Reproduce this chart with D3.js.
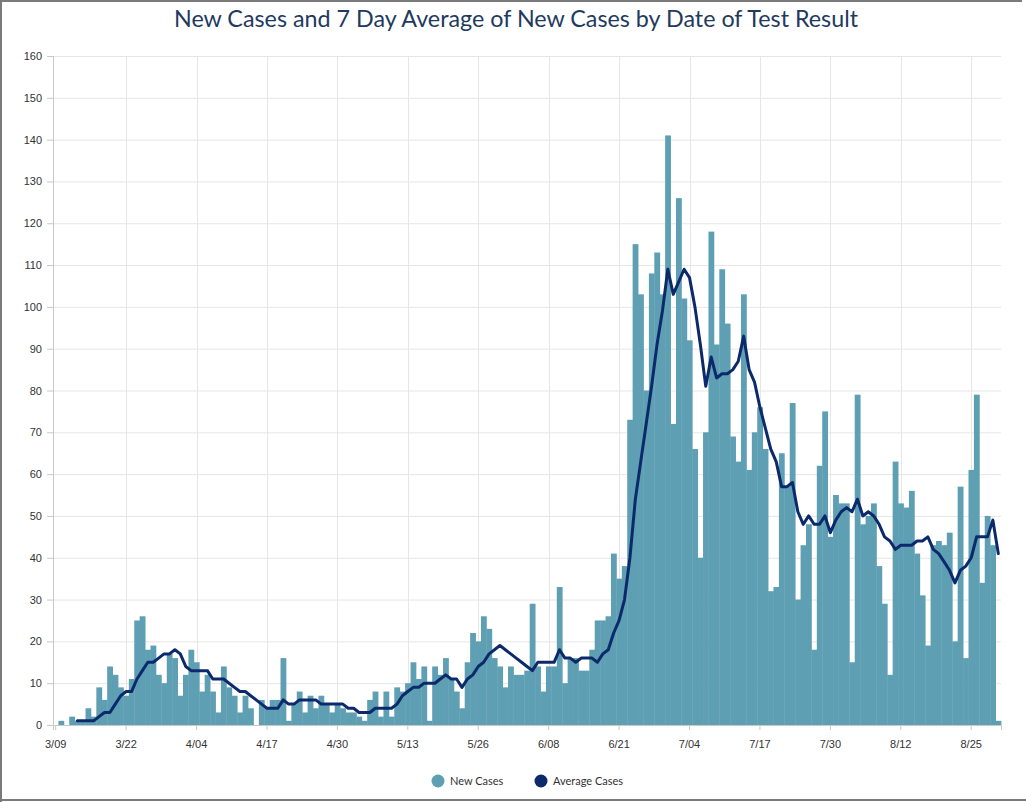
<!DOCTYPE html>
<html>
<head>
<meta charset="utf-8">
<script src="https://cdn.jsdelivr.net/npm/d3@7"></script>
<style>
  body { margin: 0; background: #fff; }
  svg { display: block; font-family: Lato, "Open Sans", sans-serif; }
  .axis text { fill: #333; font-size: 11px; }
  .axis path, .axis line { stroke: #c8c8c8; }
</style>
</head>
<body>
<div id="main"></div>
<script>
var ctx = {
    w: 1026,
    h: 802,
    left: 53,
    right: 1001,
    top: 56,
    bottom: 725,
    barColor: "#5e9fb3",
    lineColor: "#0c2a6b"
};

// first day of the series, one value per day after that
var startDate = new Date(2020, 2, 9);

// daily new cases, 3/09 .. 8/30
var newCases = [
  0, 1, 0, 2, 1, 1, 4, 2, 9, 6, 14, 12, 9, 7, 11, 25, 26, 18, 19, 12,
  10, 17, 16, 7, 12, 18, 15, 8, 12, 8, 3, 14, 9, 7, 3, 7, 4, 0, 6, 4,
  6, 6, 16, 1, 5, 8, 3, 7, 4, 7, 5, 3, 5, 4, 3, 3, 2, 1, 6, 8,
  2, 8, 2, 9, 8, 10, 15, 11, 14, 1, 14, 12, 16, 11, 8, 4, 15, 22, 20, 26,
  23, 16, 14, 9, 14, 12, 12, 13, 29, 14, 8, 14, 14, 33, 10, 16, 16, 13, 13, 18,
  25, 25, 26, 41, 35, 38, 73, 115, 103, 80, 108, 113, 103, 141, 72, 126, 102, 92, 66, 40,
  70, 118, 91, 109, 96, 69, 63, 103, 61, 70, 76, 66, 32, 33, 65, 57, 77, 30, 43, 48,
  18, 62, 75, 45, 55, 53, 53, 15, 79, 48, 50, 53, 38, 29, 12, 63, 53, 52, 56, 41,
  31, 19, 43, 44, 43, 46, 20, 57, 16, 61, 79, 34, 50, 43, 1
];

// 7 day average as drawn (no value for the first four days)
var avgCases = [
  null, null, null, null, 1, 1, 1, 1, 2, 3, 3, 5, 7, 8, 8, 11, 13, 15, 15, 16,
  17, 17, 18, 17, 14, 13, 13, 13, 13, 11, 11, 11, 10, 9, 8, 8, 7, 6, 5, 4,
  4, 4, 6, 5, 5, 6, 6, 6, 6, 5, 5, 5, 5, 5, 4, 4, 3, 3, 3, 4,
  4, 4, 4, 5, 7, 8, 9, 9, 10, 10, 10, 11, 12, 11, 11, 9, 11, 12, 14, 15,
  17, 18, 19, 18, 17, 16, 15, 14, 13, 15, 15, 15, 15, 18, 16, 16, 15, 16, 16, 16,
  15, 17, 18, 22, 25, 30, 40, 54, 63, 72, 81, 91, 99, 109, 103, 106, 109, 107, 100, 91,
  81, 88, 83, 84, 84, 85, 87, 93, 85, 82, 76, 71, 66, 63, 57, 57, 58, 51, 48, 50,
  48, 48, 50, 46, 49, 51, 52, 51, 54, 50, 51, 50, 48, 45, 44, 42, 43, 43, 43, 44,
  44, 45, 42, 41, 39, 37, 34, 37, 38, 40, 45, 45, 45, 49, 41
];

var tickLabels = ["3/09", "3/22", "4/04", "4/17", "4/30", "5/13", "5/26",
                  "6/08", "6/21", "7/04", "7/17", "7/30", "8/12", "8/25"];
var yTicks = [0, 10, 20, 30, 40, 50, 60, 70, 80, 90, 100, 110, 120, 130, 140, 150, 160];

var legendItems = [
  {label: "New Cases", color: ctx.barColor},
  {label: "Average Cases", color: ctx.lineColor}
];

var fmt = d3.timeFormat("%-m/%d");
var dayLabel = function(i){
    return fmt(d3.timeDay.offset(startDate, i));
};

var createViz = function(){
    var svg = d3.select("#main").append("svg")
        .attr("width", ctx.w)
        .attr("height", ctx.h);

    // outer frame (left, top, bottom edges as in the screenshot)
    svg.append("path")
      .attr("d", `M1,${ctx.h} L1,1 L${ctx.w - 4},1 M1,${ctx.h - 2} L${ctx.w},${ctx.h - 2}`)
      .attr("fill", "none")
      .attr("stroke", "#7a7a7a")
      .attr("stroke-width", 2);

    var days = d3.range(newCases.length);
    ctx.xScale = d3.scaleBand().domain(days).range([ctx.left, ctx.right]).padding(0);
    ctx.yScale = d3.scaleLinear().domain([0, 160]).range([ctx.bottom, ctx.top]);

    var tickIdx = days.filter(function(i){ return tickLabels.indexOf(dayLabel(i)) >= 0; });

    var bkg = svg.append("g").attr("id", "bkgG");

    // horizontal grid
    bkg.selectAll("line.hgrid")
      .data(yTicks.slice(1))
      .enter().append("line")
      .attr("class", "hgrid")
      .attr("x1", ctx.left).attr("x2", ctx.right)
      .attr("y1", function(d){ return ctx.yScale(d) + 0.5; })
      .attr("y2", function(d){ return ctx.yScale(d) + 0.5; })
      .attr("stroke", "#e6e6e6");

    // vertical grid at the date ticks
    bkg.selectAll("line.vgrid")
      .data(tickIdx.slice(1))
      .enter().append("line")
      .attr("class", "vgrid")
      .attr("x1", function(d){ return Math.round(ctx.xScale(d) + ctx.xScale.bandwidth()/2) + 0.5; })
      .attr("x2", function(d){ return Math.round(ctx.xScale(d) + ctx.xScale.bandwidth()/2) + 0.5; })
      .attr("y1", ctx.top).attr("y2", ctx.bottom)
      .attr("stroke", "#e6e6e6");

    // bars
    var bw = ctx.xScale.bandwidth();
    svg.append("g").attr("id", "barsG")
      .selectAll("rect")
      .data(newCases)
      .enter().append("rect")
      .attr("x", function(d, i){ return ctx.xScale(i); })
      .attr("width", bw + 0.4)
      .attr("y", function(d){ return ctx.yScale(d); })
      .attr("height", function(d){ return ctx.bottom - ctx.yScale(d); })
      .attr("fill", ctx.barColor);

    // axes
    var xAxis = svg.append("g")
      .attr("class", "axis")
      .attr("transform", `translate(0,${ctx.bottom})`)
      .call(d3.axisBottom(ctx.xScale)
              .tickValues(tickIdx)
              .tickFormat(dayLabel)
              .tickSize(5)
              .tickPadding(10));
    xAxis.selectAll("text").style("text-anchor", "middle");

    var yAxis = svg.append("g")
      .attr("class", "axis")
      .attr("transform", `translate(${ctx.left},0)`)
      .call(d3.axisLeft(ctx.yScale)
              .tickValues(yTicks)
              .tickSize(6)
              .tickPadding(5));
    yAxis.select(".domain").attr("d", `M0.5,${ctx.top}V${ctx.bottom}`);

    // 7 day average line
    var line = d3.line()
      .defined(function(d){ return d !== null; })
      .x(function(d, i){ return ctx.xScale(i) + bw/2; })
      .y(function(d){ return ctx.yScale(d); });
    svg.append("path")
      .datum(avgCases)
      .attr("d", line)
      .attr("fill", "none")
      .attr("stroke", ctx.lineColor)
      .attr("stroke-width", 3)
      .attr("stroke-linejoin", "round")
      .attr("stroke-linecap", "round");

    // title
    svg.append("text")
      .attr("x", 516)
      .attr("y", 27)
      .attr("text-anchor", "middle")
      .attr("fill", "#1f3a5f")
      .style("font-size", "23.3px")
      .text("New Cases and 7 Day Average of New Cases by Date of Test Result");

    // legend
    var lg = svg.append("g").attr("id", "legendG");
    var lx = [438, 541];
    legendItems.forEach(function(item, k){
        lg.append("circle")
          .attr("cx", lx[k]).attr("cy", 781).attr("r", 6.5)
          .attr("fill", item.color);
        lg.append("text")
          .attr("x", lx[k] + 12).attr("y", 785)
          .attr("fill", "#333")
          .style("font-size", "11px")
          .text(item.label);
    });
};

createViz();
</script>
</body>
</html>
